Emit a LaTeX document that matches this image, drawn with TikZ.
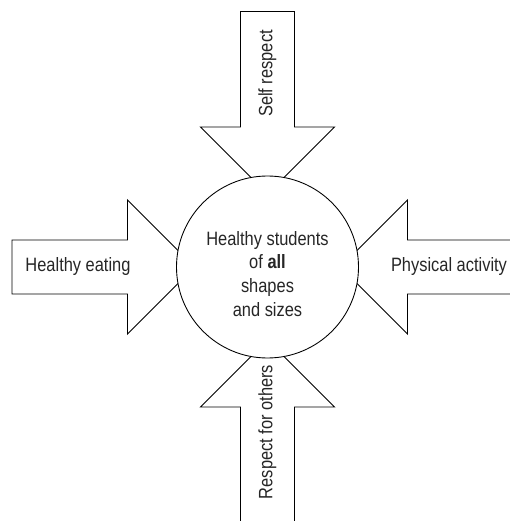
\documentclass[tikz,border=0pt]{standalone}
\usepackage{fontspec}
\setmainfont{Liberation Sans}[FakeStretch=0.85]

\begin{document}
\begin{tikzpicture}[line width=0.5pt,
    lbl/.style={font=\fontsize{11}{13.6}\selectfont, text=black!85, inner sep=0pt}]
    \clip (-5.35,-5.08) rectangle (4.85,5.34);

    % Block arrows (one drawn, turned four times)
    \foreach \a in {0,90,180,270} {
        \draw[fill=white, rotate=\a] (-5.11,0.54) -- (-2.8,0.54) -- (-2.8,1.34) -- (-1.46,0)
            -- (-2.8,-1.34) -- (-2.8,-0.54) -- (-5.11,-0.54) -- cycle;
    }

    % Centre circle, covers the arrow tips
    \node[circle, draw, fill=white, minimum size=3.64cm, inner sep=0pt] (hub) at (0,0) {};
    \node[lbl, align=center] (hubtext) at (0,-0.14) {Healthy students\\ of \textbf{all}\\ shapes\\ and sizes};

    % Arrow labels
    \node[lbl] (eating) at (-3.79,0) {Healthy eating};
    \node[lbl] (activity) at (3.63,0) {Physical activity};
    \node[lbl, rotate=90] (self) at (0,3.87) {Self respect};
    \node[lbl, rotate=90] (others) at (0,-3.3) {Respect for others};
\end{tikzpicture}
\end{document}
